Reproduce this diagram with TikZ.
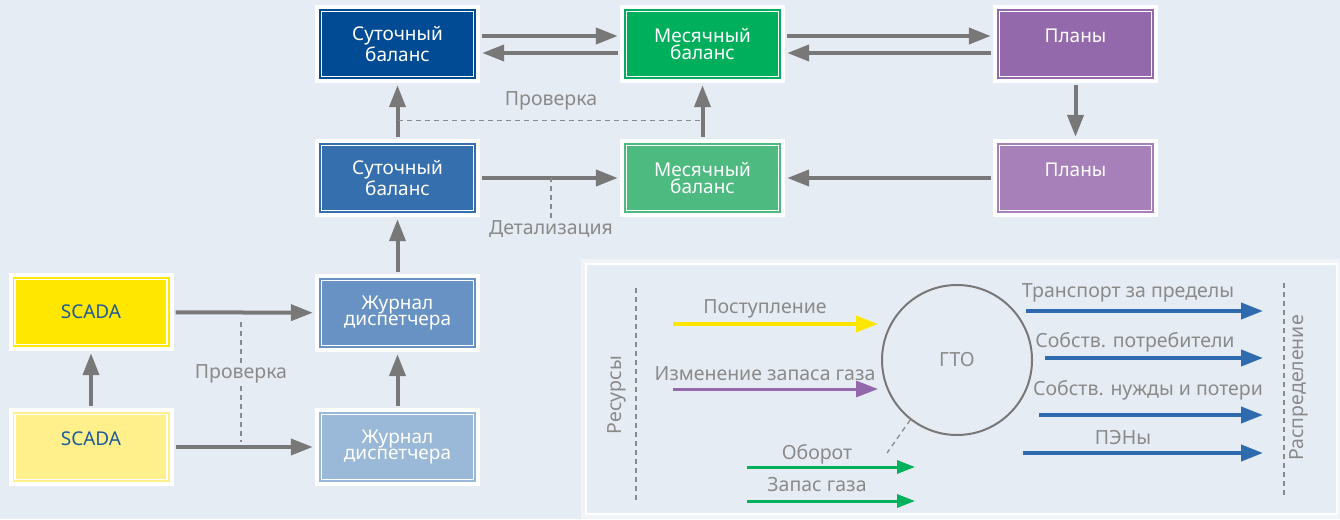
\documentclass[tikz,border=0pt]{standalone}
\usepackage{fontspec}
\setmainfont{Noto Sans}
\usetikzlibrary{arrows.meta,positioning}

\definecolor{bgc}{HTML}{E6ECF4}
\definecolor{lgbg}{HTML}{F0F4F9}
\definecolor{sut1c}{HTML}{004B93}
\definecolor{mes1c}{HTML}{00AF5B}
\definecolor{pl1c}{HTML}{9469AB}
\definecolor{sut2c}{HTML}{356FAD}
\definecolor{mes2c}{HTML}{4DBA80}
\definecolor{pl2c}{HTML}{A780BA}
\definecolor{jr1c}{HTML}{6792C3}
\definecolor{jr2c}{HTML}{9AB8D8}
\definecolor{sc1c}{HTML}{FFE700}
\definecolor{sc2c}{HTML}{FFF08C}
\definecolor{sctext}{HTML}{1E5A9A}
\definecolor{arrgray}{HTML}{787878}
\definecolor{notegray}{HTML}{8A8A8A}
\definecolor{bluec}{HTML}{2E6BAE}
\definecolor{greenc}{HTML}{00B05B}
\definecolor{yelc}{HTML}{FFE600}
\definecolor{purc}{HTML}{9469AB}

\begin{document}
\begin{tikzpicture}[x=1pt,y=-1pt,
    box/.style={fill=white, minimum width=165pt, minimum height=78pt, inner sep=0pt,
        text=white, align=center, font=\fontsize{19}{16.5}\selectfont,
        path picture={
            \fill[#1] ([shift={(4pt,-4pt)}]path picture bounding box.north west)
                rectangle ([shift={(-4pt,4pt)}]path picture bounding box.south east);
            \draw[white, line width=1.5pt] ([shift={(6.5pt,-6.5pt)}]path picture bounding box.north west)
                rectangle ([shift={(-6.5pt,6.5pt)}]path picture bounding box.south east);}},
    arr/.style={draw=arrgray, line width=4pt, shorten <=2pt, shorten >=2pt,
        -{Triangle[length=22pt,width=16pt]}},
    larr/.style={draw=#1, line width=4pt, -{Triangle[length=22pt,width=16pt]}},
    garr/.style={draw=greenc, line width=3pt, -{Triangle[length=18pt,width=13pt]}},
    dline/.style={draw=notegray, line width=1.3pt, dash pattern=on 5pt off 4pt},
    note/.style={text=notegray, font=\fontsize{19.5}{19.5}\selectfont, inner sep=2pt}]

    \fill[bgc] (0,0) rectangle (1340,519);

    \node[box=sut1c] (sut1) at (397.5,44) {Суточный\\баланс};
    \node[box=mes1c] (mes1) at (702.5,44) {Месячный\\баланс};
    \node[box=pl1c] (pl1) at (1075.5,44) {Планы\\\phantom{б}};
    \node[box=sut2c] (sut2) at (397.5,178) {Суточный\\баланс};
    \node[box=mes2c] (mes2) at (702.5,178) {Месячный\\баланс};
    \node[box=pl2c] (pl2) at (1075.5,178) {Планы\\\phantom{б}};
    \node[box=jr1c] (jr1) at (397.5,313) {Журнал\\диспетчера};
    \node[box=jr2c] (jr2) at (397.5,447) {Журнал\\диспетчера};
    \node[box=sc1c, text=sctext] (sc1) at (91,312) {SCADA};
    \node[box=sc2c, text=sctext] (sc2) at (91,447) {SCADA\\\phantom{б}};

    \draw[arr] ([yshift=8pt]sut1.east) -- ([yshift=8pt]mes1.west);
    \draw[arr] ([yshift=-9pt]mes1.west) -- ([yshift=-9pt]sut1.east);
    \draw[arr] ([yshift=8pt]mes1.east) -- ([yshift=8pt]pl1.west);
    \draw[arr] ([yshift=-9pt]pl1.west) -- ([yshift=-9pt]mes1.east);
    \draw[arr] (pl1) -- (pl2);
    \draw[arr] (pl2) -- (mes2);
    \draw[arr] (sut2) -- (mes2);
    \draw[arr] (sut2) -- (sut1);
    \draw[arr] (mes2) -- (mes1);
    \draw[arr] (jr1) -- (sut2);
    \draw[arr] (jr2) -- (jr1);
    \draw[arr] (sc2) -- (sc1);
    \draw[arr] (sc1) -- (jr1);
    \draw[arr] (sc2) -- (jr2);

    \draw[dline] ([yshift=18pt]sut2.north) -- ([yshift=18pt]mes2.north);
    \node[note] (chk1) at (551,101) {Проверка};
    \node[note] (det) at (551,229) {Детализация};
    \draw[dline] (det.north) -- (det.north |- sut2.east);
    \node[note, fill=bgc] (chk2) at (241,374) {Проверка};
    \draw[dline] (chk2.north) -- ([yshift=-6pt]chk2.north |- sc1.east);
    \draw[dline] (chk2.south) -- ([yshift=5pt]chk2.south |- sc2.east);

    \fill[lgbg] (581,259) rectangle (1340,519);
    \draw[white, line width=2pt, fill=bgc] (586,264) rectangle (1337,514);

    \node[circle, draw=arrgray, line width=2pt, minimum size=150pt, text=notegray,
        font=\fontsize{19.5}{19.5}\selectfont] (gto) at (957,360) {ГТО};
    \coordinate (turn) at (887,453);
    \draw[dline] (gto.232) -- (turn);

    \coordinate (rtop) at (636,288);
    \coordinate (rbot) at (636,500);
    \coordinate (dtop) at (1284,283);
    \coordinate (dbot) at (1284,495);
    \draw[dline] (rtop) -- (rbot);
    \draw[dline] (dtop) -- (dbot);
    \node[note, rotate=90] (res) at (617,395) {Ресурсы};
    \node[note, rotate=90] (dist) at (1299,388) {Распределение};

    \coordinate (in1) at (673,324);
    \coordinate (in2) at (673,389);
    \draw[larr=yelc, shorten >=3pt] (in1) -- (in1 -| gto.west);
    \draw[larr=purc, line width=3pt, shorten >=3pt] (in2) -- (in2 -| gto.west);
    \node[note] (tin1) at (765,309) {Поступление};
    \node[note] (tin2) at (765,374) {Изменение запаса газа};

    \coordinate (g1) at (747,467);
    \coordinate (g2) at (747,501);
    \draw[garr] (g1) -- ++(168,0);
    \draw[garr] (g2) -- ++(168,0);
    \node[note] (tg1) at (817,454) {Оборот};
    \node[note] (tg2) at (817,485) {Запас газа};

    \coordinate (o1) at (1026,311);
    \coordinate (o2) at (1045,358);
    \coordinate (o3) at (1039,415);
    \coordinate (o4) at (1023,453);
    \draw[larr=bluec, shorten >=21pt] (o1) -- (o1 -| dtop);
    \draw[larr=bluec, shorten >=21pt] (o2) -- (o2 -| dtop);
    \draw[larr=bluec, shorten >=21pt] (o3) -- (o3 -| dtop);
    \draw[larr=bluec, shorten >=21pt] (o4) -- (o4 -| dtop);
    \node[note] (to1) at (1128,293) {Транспорт за пределы};
    \node[note] (to2) at (1135,342) {Собств. потребители};
    \node[note] (to3) at (1148,390) {Собств. нужды и потери};
    \node[note] (to4) at (1123,438) {ПЭНы};
\end{tikzpicture}
\end{document}
